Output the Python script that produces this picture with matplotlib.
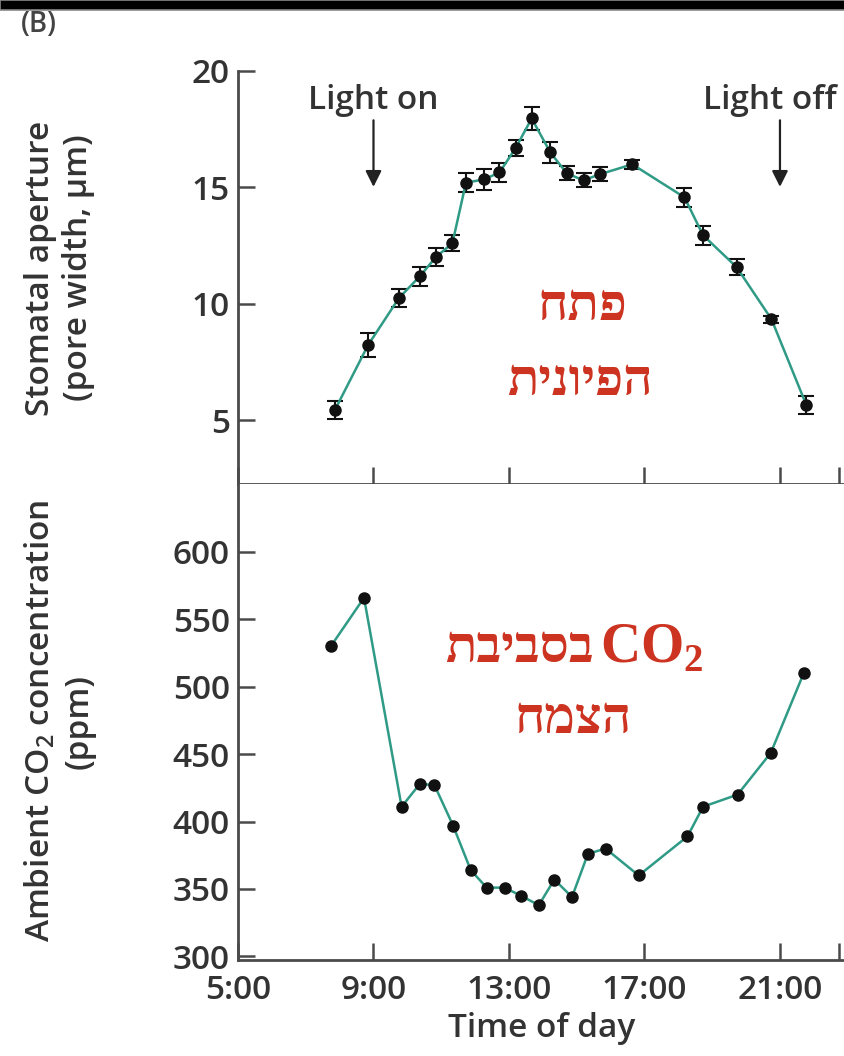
import matplotlib

matplotlib.use("Agg")
import matplotlib.pyplot as plt
from matplotlib.patches import Rectangle

plt.rcParams["font.family"] = ["Open Sans", "DejaVu Sans"]
plt.rcParams["font.weight"] = 600
plt.rcParams["axes.labelweight"] = 600

# 気孔開度 (上段)
time_aperture = [7.86, 8.84, 9.75, 10.37, 10.84, 11.33, 11.73, 12.26, 12.72, 13.2, 13.67,
                 14.22, 14.71, 15.2, 15.68, 16.64, 18.18, 18.73, 19.72, 20.75, 21.78]
aperture = [5.43, 8.22, 10.24, 11.18, 12.0, 12.6, 15.2, 15.34, 15.64, 16.7, 17.96,
            16.5, 15.6, 15.3, 15.56, 15.99, 14.57, 12.94, 11.57, 9.33, 5.64]
aperture_err = [0.4, 0.5, 0.4, 0.4, 0.4, 0.35, 0.4, 0.45, 0.4, 0.35, 0.5,
                0.45, 0.3, 0.3, 0.3, 0.2, 0.4, 0.4, 0.35, 0.15, 0.4]

# CO2 濃度 (下段)
time_co2 = [7.74, 8.72, 9.83, 10.37, 10.8, 11.35, 11.87, 12.34, 12.87, 13.35, 13.88,
            14.34, 14.86, 15.33, 15.85, 16.83, 18.27, 18.73, 19.75, 20.73, 21.7]
co2 = [530, 566, 411, 428, 427, 397, 364, 351, 351, 345, 338,
       357, 344, 376, 380, 360, 389, 411, 420, 451, 510]

hour_ticks = [5, 9, 13, 17, 21]
hour_labels = ["5:00", "9:00", "13:00", "17:00", "21:00"]
light_on, light_off = 9, 21

LINE = "#2f9a85"
TXT = "#333333"
AXC = "#4a4a4a"
RED = "#cc3320"
HEB = ["Liberation Serif", "DejaVu Sans"]


def heb(s):
    # matplotlib は bidi 非対応なので表示順に並べ替える
    return s[::-1]


W, H = 845, 1056
fig = plt.figure(figsize=(W / 100, H / 100), dpi=100)

# 上部の黒帯
fig.patches.append(Rectangle((0, 1 - 10 / H), 1, 10 / H, transform=fig.transFigure,
                             facecolor="black", edgecolor="#888888", lw=1.2))
fig.text(39 / W, 1 - 24 / H, "(B)", fontsize=20, color="#444444", va="center", ha="center")

left = 238 / W
width = 1 - left
ax1 = fig.add_axes([left, 1 - 484 / H, width, (484 - 71) / H])
ax2 = fig.add_axes([left, 1 - 960 / H, width, (960 - 484) / H])

for ax in (ax1, ax2):
    for side in ("top", "right"):
        ax.spines[side].set_visible(False)
    for side in ("left", "bottom"):
        ax.spines[side].set_linewidth(2.0)
        ax.spines[side].set_color(AXC)
    ax.set_xlim(5, 22.92)
    ax.set_xticks(hour_ticks)
    ax.set_xticks([22.75], minor=True)
    ax.tick_params(axis="both", which="both", direction="in", length=12, width=1.8,
                   color=AXC, labelsize=24, labelcolor=TXT)
    ax.tick_params(axis="y", pad=6)

# 上段
ax1.errorbar(time_aperture, aperture, yerr=aperture_err, fmt="none", ecolor="#111111",
             elinewidth=1.5, capsize=6, capthick=1.5, zorder=2)
ax1.plot(time_aperture, aperture, color=LINE, lw=1.8, marker="o", ms=8,
         mfc="#111111", mec="#111111", zorder=3)
ax1.set_ylim(2.25, 20)
ax1.set_yticks([5, 10, 15, 20])
ax1.set_xticklabels([])
ax1.set_ylabel("Stomatal aperture\n(pore width, µm)", fontsize=24, color=TXT, linespacing=1.2)
ax1.yaxis.set_label_coords(-0.235, 0.523)

arrow = dict(arrowstyle="-|>", color="#222222", lw=1.6, mutation_scale=24)
ax1.annotate("", xy=(light_on, 14.9), xytext=(light_on, 18.0), arrowprops=arrow)
ax1.annotate("", xy=(light_off, 14.9), xytext=(light_off, 18.0), arrowprops=arrow)
ax1.text(light_on, 18.75, "Light on", fontsize=24, color=TXT, ha="center", va="center")
ax1.text(light_off - 0.3, 18.75, "Light off", fontsize=24, color=TXT, ha="center", va="center")

ax1.text(15.18, 9.31, heb("פתח"), family=HEB, fontweight="bold", fontsize=37,
         color=RED, ha="center", va="baseline")
ax1.text(15.1, 6.09, heb("הפיונית"), family=HEB, fontweight="bold", fontsize=37,
         color=RED, ha="center", va="baseline")

# 下段
ax2.plot(time_co2, co2, color=LINE, lw=1.8, marker="o", ms=8,
         mfc="#111111", mec="#111111", zorder=3)
ax2.set_ylim(297.3, 650.4)
ax2.set_yticks(range(300, 601, 50))
ax2.set_xticklabels(hour_labels)
ax2.tick_params(axis="x", pad=10)
ax2.set_xlabel("Time of day", fontsize=24, color=TXT, labelpad=4)
ax2.set_ylabel("Ambient CO$_\\mathregular{2}$ concentration\n(ppm)", fontsize=24, color=TXT,
               linespacing=1.2)
ax2.yaxis.set_label_coords(-0.235, 0.502)

ax2.text(15.5, 518.4, heb("בסביבת"), family=HEB, fontweight="bold", fontsize=37,
         color=RED, ha="right", va="baseline")
ax2.text(15.7, 518.4, "CO$_\\mathregular{2}$", family="Liberation Serif", fontweight="bold",
         fontsize=40, color=RED, ha="left", va="baseline")
ax2.text(14.91, 465.7, heb("הצמח"), family=HEB, fontweight="bold", fontsize=37,
         color=RED, ha="center", va="baseline")

fig.savefig("out.png", dpi=100)
